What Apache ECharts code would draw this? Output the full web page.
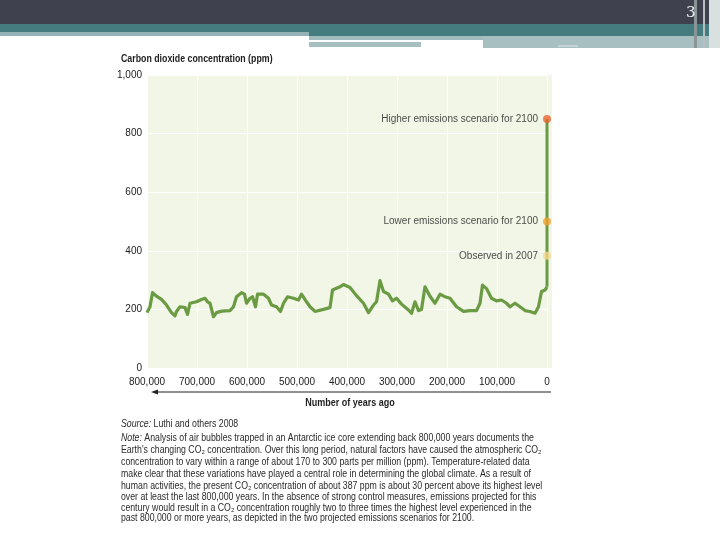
<!DOCTYPE html>
<html><head><meta charset="utf-8">
<script src="https://cdn.jsdelivr.net/npm/echarts@6/dist/echarts.min.js"></script>
<style>html,body{margin:0;padding:0;background:#fff}#c{width:720px;height:540px}</style>
</head><body><div id="c"></div>
<script>
const years = [800000,794000,789000,781000,771000,761000,751000,744000,741000,734000,724000,719000,714000,701000,691000,684000,679000,674000,667000,661000,651000,634000,627000,621000,611000,605000,601000,594000,589000,583000,579000,567000,557000,551000,541000,533000,527000,519000,507000,497000,491000,481000,474000,464000,447000,434000,429000,414000,407000,394000,381000,367000,357000,347000,341000,334000,327000,317000,309000,301000,291000,277000,271000,264000,257000,251000,244000,234000,224000,214000,204000,194000,181000,167000,154000,141000,134000,129000,121000,111000,101000,91000,81000,74000,64000,54000,44000,34000,24000,17000,11000,4000,0];
const co2 = [189,209,257,245,234,215,189,178,193,209,206,183,221,226,234,238,226,221,175,189,194,196,209,243,257,252,221,238,243,209,252,252,238,215,209,193,221,243,238,232,252,226,209,193,200,206,266,277,285,275,247,221,189,215,226,298,261,252,229,238,218,198,187,226,196,200,277,245,221,252,243,238,209,193,196,196,221,283,271,238,229,232,221,209,221,209,196,193,187,209,261,266,277];
const scenarioYears = [0,0,0];
const scenarioValues = [850,500,383];
const scenarioLabels = ['Higher emissions scenario for 2100','Lower emissions scenario for 2100','Observed in 2007'];
const scenarioColors = ['#e8632e','#f2a12e','#f7d98e'];
const yTicks = [0,200,400,600,800,1000];
const xTicks = [800000,700000,600000,500000,400000,300000,200000,100000,0];

const FONT = "'Liberation Sans Narrow','Liberation Sans',sans-serif";
const fmt = v => v.toLocaleString('en-US');
const chart = echarts.init(document.getElementById('c'), null, {renderer:'canvas'});

const noteLines = [
 ['{i|Source:} Luthi and others 2008', 425],
 ['{i|Note:} Analysis of air bubbles trapped in an Antarctic ice core extending back 800,000 years documents the', 439],
 ["Earth's changing CO\u2082 concentration. Over this long period, natural factors have caused the atmospheric CO\u2082", 451],
 ['concentration to vary within a range of about 170 to 300 parts per million (ppm). Temperature-related data', 463],
 ['make clear that these variations have played a central role in determining the global climate. As a result of', 475],
 ['human activities, the present CO\u2082 concentration of about 387 ppm is about 30 percent above its highest level', 487],
 ['over at least the last 800,000 years. In the absence of strong control measures, emissions projected for this', 498],
 ['century would result in a CO\u2082 concentration roughly two to three times the highest level experienced in the', 509],
 ['past 800,000 or more years, as depicted in the two projected emissions scenarios for 2100.', 519]
];

const graphics = [
 {type:'rect', shape:{x:0,y:0,width:720,height:24}, style:{fill:'#40414f'}, z:-5},
 {type:'rect', shape:{x:0,y:24,width:720,height:8}, style:{fill:'#457c80'}, z:-5},
 {type:'rect', shape:{x:0,y:32,width:309,height:4}, style:{fill:'#95b2b4'}, z:-5},
 {type:'rect', shape:{x:309,y:32,width:411,height:4}, style:{fill:'#457c80'}, z:-5},
 {type:'rect', shape:{x:309,y:36,width:411,height:4}, style:{fill:'#a3bdbf'}, z:-5},
 {type:'rect', shape:{x:309,y:42,width:112,height:5}, style:{fill:'#a7bfc0'}, z:-5},
 {type:'rect', shape:{x:483,y:36,width:237,height:12}, style:{fill:'#a7bfc0'}, z:-5},
 {type:'rect', shape:{x:558,y:45,width:20,height:2}, style:{fill:'#c5d3d4'}, z:-5},
 {type:'rect', shape:{x:694,y:0,width:3,height:48}, style:{fill:'#8c9596'}, z:-4},
 {type:'rect', shape:{x:703,y:0,width:2,height:48}, style:{fill:'#b6c0c1'}, z:-4},
 {type:'rect', shape:{x:709,y:0,width:11,height:48}, style:{fill:'#d9e0e0'}, z:-4},
 {type:'text', x:686, y:6, style:{text:'3', fill:'#eeeeee', font:"15px 'DejaVu Serif', serif"}, z:5},
 {type:'text', x:121, y:53, scaleX:0.8, style:{text:'Carbon dioxide concentration (ppm)', fill:'#1e1e1e', font:"bold 11px "+FONT}},
 {type:'text', x:350, y:397, scaleX:0.82, style:{text:'Number of years ago', fill:'#1e1e1e', font:"bold 11px "+FONT, textAlign:'center'}},
 {type:'rect', shape:{x:547,y:75,width:5,height:293}, style:{fill:'#f2f6e6'}, z:-3},
 {type:'polyline', shape:{points:[[156,392],[551,392]]}, style:{stroke:'#222',lineWidth:1.2,fill:null}},
 {type:'polygon', shape:{points:[[151,392],[158,389.5],[158,394.5]]}, style:{fill:'#222'}}
];
noteLines.forEach(([t,y])=>{
  graphics.push({type:'text', x:121, y:y-6, scaleX:0.875, style:{text:t, fill:'#2a2a2a', font:"10px "+FONT,
    rich:{i:{fontStyle:'italic', fontFamily:FONT, fontSize:10, fill:'#2a2a2a'}}}});
});

chart.setOption({
  animation:false,
  backgroundColor:'#ffffff',
  textStyle:{fontFamily:FONT},
  grid:{left:147, top:75, width:400, height:293, show:true, backgroundColor:'#f2f6e6', borderWidth:0},
  xAxis:{type:'value', inverse:true, min:0, max:800000, interval:100000,
    axisLine:{show:false}, axisTick:{show:false},
    splitLine:{show:true, lineStyle:{color:'#ffffff', width:1}},
    axisLabel:{formatter:v=>fmt(v), color:'#222', fontSize:10, fontFamily:FONT, margin:9}},
  yAxis:{type:'value', min:0, max:1000, interval:200,
    axisLine:{show:false}, axisTick:{show:false},
    splitLine:{show:true, lineStyle:{color:'#ffffff', width:1}},
    axisLabel:{formatter:v=>fmt(v), color:'#222', fontSize:10, fontFamily:FONT, margin:5}},
  graphic:graphics,
  series:[
    {type:'line', data:years.map((y,i)=>[y,co2[i]]), showSymbol:false, symbol:'none',
     lineStyle:{color:'#6a9b43', width:3.2, join:'round'}, z:2},
    {type:'line', data:[[0,co2[co2.length-1]],[0,scenarioValues[0]]], showSymbol:false, symbol:'none',
     lineStyle:{color:'#6a9b43', width:3}, z:2},
    {type:'scatter', symbolSize:8, z:4,
     data:scenarioValues.map((v,i)=>({value:[scenarioYears[i],v], itemStyle:{color:scenarioColors[i]},
       label:{show:true, position:'left', distance:5, formatter:scenarioLabels[i], color:'#1a1a1a', fontSize:10, fontFamily:FONT}}))}
  ]
});
</script></body></html>
